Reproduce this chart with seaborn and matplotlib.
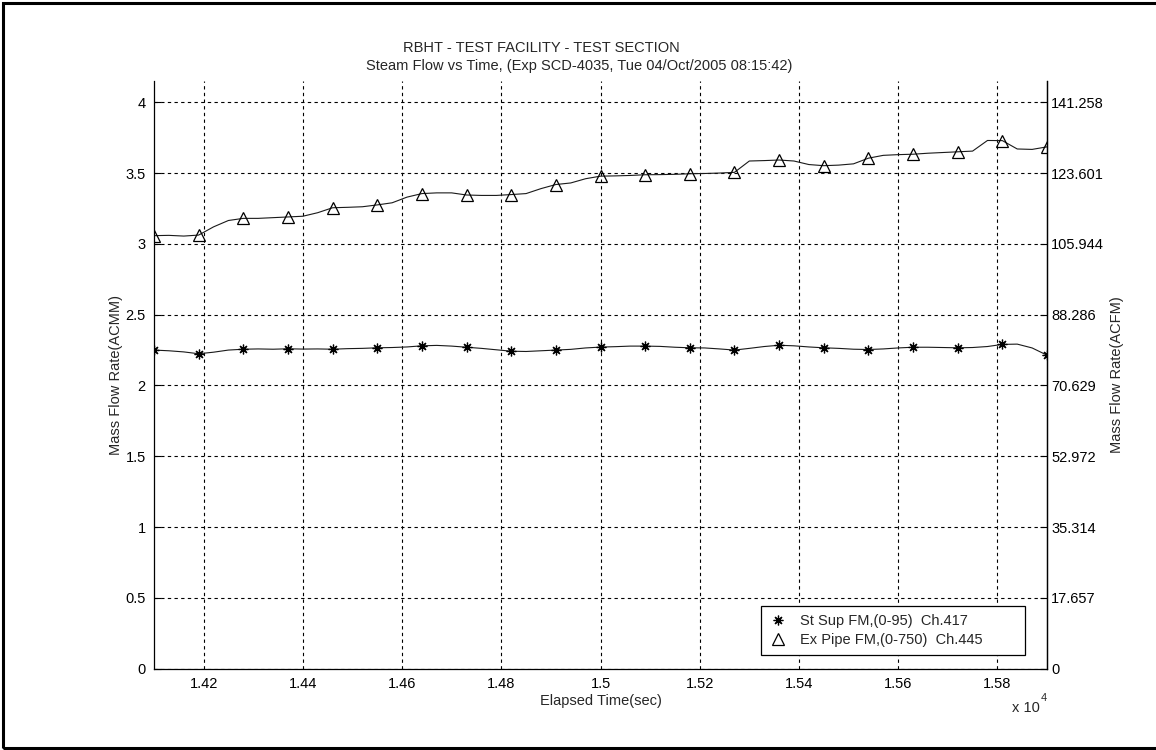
import numpy as np
import pandas as pd
import matplotlib
matplotlib.use("Agg")
import matplotlib.pyplot as plt
from matplotlib.lines import Line2D
from matplotlib.patches import Rectangle
import seaborn as sns

# ---------------- data ----------------
time_sec = [14100 + 30 * k for k in range(61)]

ex_pipe = [3.058, 3.060, 3.055, 3.062, 3.120, 3.165, 3.180, 3.180, 3.185, 3.190,
           3.195, 3.220, 3.255, 3.258, 3.262, 3.275, 3.290, 3.330, 3.355, 3.360,
           3.360, 3.345, 3.342, 3.342, 3.348, 3.355, 3.390, 3.419, 3.430, 3.460,
           3.478, 3.480, 3.483, 3.488, 3.489, 3.491, 3.495, 3.497, 3.500, 3.505,
           3.585, 3.588, 3.592, 3.585, 3.560, 3.552, 3.556, 3.565, 3.605, 3.625,
           3.630, 3.633, 3.640, 3.645, 3.650, 3.655, 3.730, 3.729, 3.670, 3.667,
           3.685]

st_sup = [2.250, 2.245, 2.237, 2.224, 2.235, 2.250, 2.256, 2.258, 2.256, 2.259,
          2.257, 2.258, 2.256, 2.260, 2.262, 2.266, 2.268, 2.272, 2.280, 2.283,
          2.278, 2.270, 2.262, 2.252, 2.242, 2.240, 2.245, 2.250, 2.255, 2.265,
          2.271, 2.274, 2.278, 2.278, 2.276, 2.270, 2.266, 2.265, 2.258, 2.250,
          2.262, 2.275, 2.284, 2.280, 2.272, 2.266, 2.262, 2.256, 2.254, 2.258,
          2.265, 2.270, 2.270, 2.268, 2.266, 2.268, 2.275, 2.290, 2.292, 2.265,
          2.214]

x_ticks = [14200, 14400, 14600, 14800, 15000, 15200, 15400, 15600, 15800]
x_tick_labels = ["1.42", "1.44", "1.46", "1.48", "1.5", "1.52", "1.54", "1.56", "1.58"]
y_ticks = [0, 0.5, 1, 1.5, 2, 2.5, 3, 3.5, 4]
y_tick_labels = ["0", "0.5", "1", "1.5", "2", "2.5", "3", "3.5", "4"]
acfm_per_acmm = 35.3145
right_tick_labels = ["0", "17.657", "35.314", "52.972", "70.629", "88.286",
                     "105.944", "123.601", "141.258"]

legend_labels = ["St Sup FM,(0-95)  Ch.417", "Ex Pipe FM,(0-750)  Ch.445"]
title_line1 = "RBHT - TEST FACILITY - TEST SECTION"
title_line2 = "Steam Flow vs Time, (Exp SCD-4035, Tue 04/Oct/2005 08:15:42)"

df = pd.DataFrame({"t": time_sec, "st": st_sup, "ex": ex_pipe})

# ---------------- style ----------------
sns.set_style("white")
plt.rcParams["font.family"] = ["Liberation Sans", "DejaVu Sans"]
FS = 10.5

W, H = 1156, 750
fig = plt.figure(figsize=(W / 100, H / 100), dpi=100)
fig.patch.set_facecolor("white")

# figure frame (right edge lies outside the picture)
fig.patches.append(Rectangle((3 / W, 2 / H), (1170 - 3) / W, (747 - 2) / H,
                             transform=fig.transFigure, fill=False,
                             edgecolor="black", linewidth=2.2, zorder=0))

ax_l, ax_r, ax_t, ax_b = 154, 1047, 81, 668.7
ax = fig.add_axes([ax_l / W, 1 - ax_b / H, (ax_r - ax_l) / W, (ax_b - ax_t) / H])

marker_kw = dict(markevery=3, markerfacecolor="none", markeredgecolor="black")
sns.lineplot(data=df, x="t", y="ex", ax=ax, color="#1a1a1a", linewidth=0.8,
             marker="^", markersize=8, markeredgewidth=0.9, **marker_kw)
sns.lineplot(data=df, x="t", y="st", ax=ax, color="#1a1a1a", linewidth=0.8,
             marker=(8, 2, 0), markersize=7, markeredgewidth=0.9, **marker_kw)

ax.set_xlim(14100, 15900)
ax.set_ylim(0, 4.15)
ax.set_xticks(x_ticks)
ax.set_xticklabels(x_tick_labels, fontsize=FS)
ax.set_yticks(y_ticks)
ax.set_yticklabels(y_tick_labels, fontsize=FS)
ax.tick_params(direction="in", length=5, width=0.8, colors="black", pad=6)
ax.grid(True, color="black", linestyle=(0, (3, 3)), linewidth=0.8)
for s in ["left", "bottom", "right"]:
    ax.spines[s].set_color("black")
    ax.spines[s].set_linewidth(0.9)
ax.spines["top"].set_visible(False)
ax.set_xlabel("Elapsed Time(sec)", fontsize=FS, labelpad=2)
ax.set_ylabel("Mass Flow Rate(ACMM)", fontsize=FS, labelpad=2)

ax2 = ax.twinx()
ax2.set_ylim(0, 4.15 * acfm_per_acmm)
ax2.set_yticks([v * acfm_per_acmm for v in y_ticks])
ax2.set_yticklabels(right_tick_labels, fontsize=FS)
ax2.tick_params(direction="in", length=5, width=0.8, colors="black", pad=3)
for s in ["left", "bottom", "top"]:
    ax2.spines[s].set_visible(False)
ax2.spines["right"].set_color("black")
ax2.spines["right"].set_linewidth(0.9)
ax2.set_ylabel("Mass Flow Rate(ACFM)", fontsize=FS, labelpad=4)

# legend
handles = [
    Line2D([], [], linestyle="none", marker=(8, 2, 0), markersize=7,
           markeredgecolor="black", markeredgewidth=0.9),
    Line2D([], [], linestyle="none", marker="^", markersize=8,
           markerfacecolor="none", markeredgecolor="black", markeredgewidth=0.9),
]
bx0 = (761 - ax_l) / (ax_r - ax_l)
bw = (1025 - 761) / (ax_r - ax_l)
by0 = (ax_b - 655) / (ax_b - ax_t)
leg = ax.legend(handles, legend_labels, loc="lower left", mode="expand",
                bbox_to_anchor=(bx0, by0, bw, 0.1),
                fontsize=FS, frameon=True, fancybox=False, borderpad=0.55,
                handlelength=1.2, handletextpad=0.9, labelspacing=0.35,
                borderaxespad=0)
leg.get_frame().set_edgecolor("black")
leg.get_frame().set_linewidth(0.9)
leg.get_frame().set_alpha(1)

# title lines
fig.text(541 / W, 1 - 48 / H, title_line1, ha="center", va="center", fontsize=FS)
fig.text(579 / W, 1 - 66 / H, title_line2, ha="center", va="center", fontsize=FS)

# x10^4 multiplier
fig.text(1040 / W, 1 - 708 / H, "x 10", ha="right", va="center", fontsize=FS)
fig.text(1041 / W, 1 - 698 / H, "4", ha="left", va="center", fontsize=FS * 0.75)

fig.savefig("out.png", dpi=100, facecolor="white")
